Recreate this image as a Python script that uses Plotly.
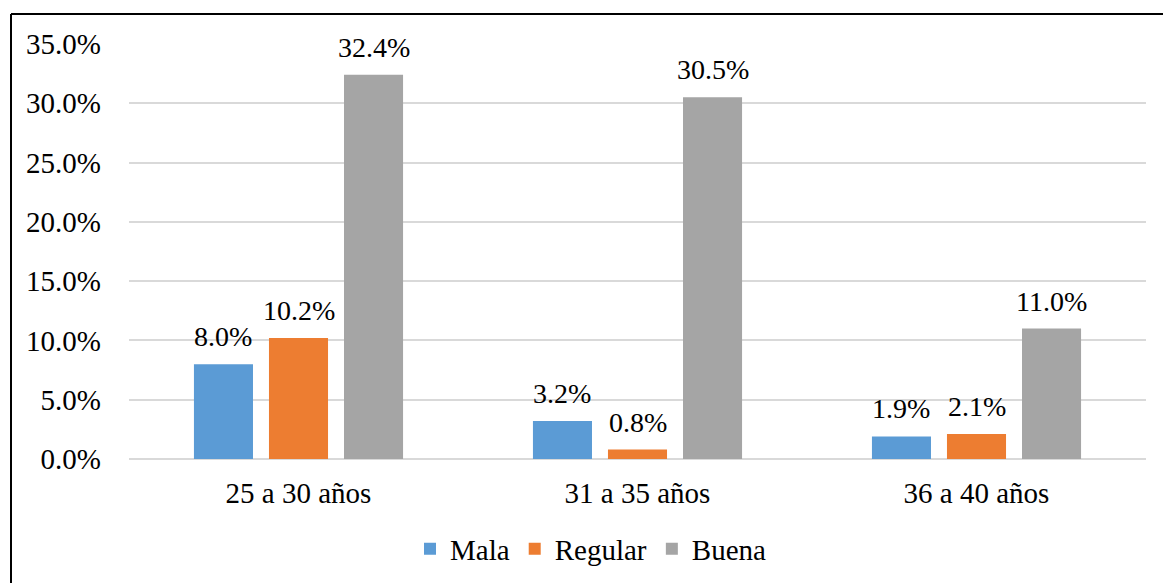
import plotly.graph_objects as go

categories = ["25 a 30 años", "31 a 35 años", "36 a 40 años"]
mala = [0.080, 0.032, 0.019]
regular = [0.102, 0.008, 0.021]
buena = [0.324, 0.305, 0.110]
series_names = ["Mala", "Regular", "Buena"]
colors = ["#5b9bd5", "#ed7d31", "#a5a5a5"]

W, H = 1163, 583
L, R, T, B = 129, 17, 44, 124
FONT = "Liberation Serif"
BARGAP, GROUPGAP = 0.336, 0.213

fig = go.Figure()
series = [mala, regular, buena]
for name, vals, col in zip(series_names, series, colors):
    fig.add_trace(go.Bar(
        x=categories, y=vals, name=name, marker_color=col,
        marker_line_width=0,
    ))

# value labels placed above each bar at the bar's own data position
slot = (1 - BARGAP) / len(series)
annotations = []
for k, vals in enumerate(series):
    for i, v in enumerate(vals):
        annotations.append(dict(
            x=i + (k - (len(series) - 1) / 2) * slot, y=v,
            xref="x", yref="y", text=f"{v*100:.1f}%", showarrow=False,
            yanchor="bottom", yshift=10,
            font=dict(family=FONT, size=28, color="#000000"),
        ))

pw = W - L - R
ph = H - T - B

def px_x(p):
    return (p - L) / pw

def px_y(p):
    return (H - B - p) / ph

fig.update_layout(
    width=W, height=H,
    margin=dict(l=L, r=R, t=T, b=B, autoexpand=False),
    paper_bgcolor="white", plot_bgcolor="white",
    barmode="group", bargap=BARGAP, bargroupgap=GROUPGAP,
    font=dict(family=FONT, size=29, color="#000000"),
    showlegend=True,
    legend=dict(orientation="h", x=px_x(410), xanchor="left", y=px_y(549),
                yanchor="middle", font=dict(family=FONT, size=29, color="#000000"),
                itemwidth=30, traceorder="normal"),
    yaxis=dict(range=[0, 0.35], dtick=0.05, tickformat=".1%",
               showgrid=True, gridcolor="#d9d9d9", gridwidth=1.5,
               zeroline=True, zerolinecolor="#d9d9d9", zerolinewidth=1.5,
               showline=False, ticks="", ticklabelstandoff=27,
               automargin=False,
               tickfont=dict(family=FONT, size=29, color="#000000")),
    xaxis=dict(showgrid=False, showline=False, ticks="",
               ticklabelstandoff=14, automargin=False,
               tickfont=dict(family=FONT, size=29, color="#000000")),
    annotations=annotations,
    shapes=[
        dict(type="line", xref="paper", yref="paper",
             x0=px_x(11), x1=px_x(W + 5), y0=px_y(14), y1=px_y(14),
             line=dict(color="black", width=2)),
        dict(type="line", xref="paper", yref="paper",
             x0=px_x(11), x1=px_x(11), y0=px_y(14), y1=px_y(H + 5),
             line=dict(color="black", width=2)),
    ],
)

fig.write_html("out.html")
